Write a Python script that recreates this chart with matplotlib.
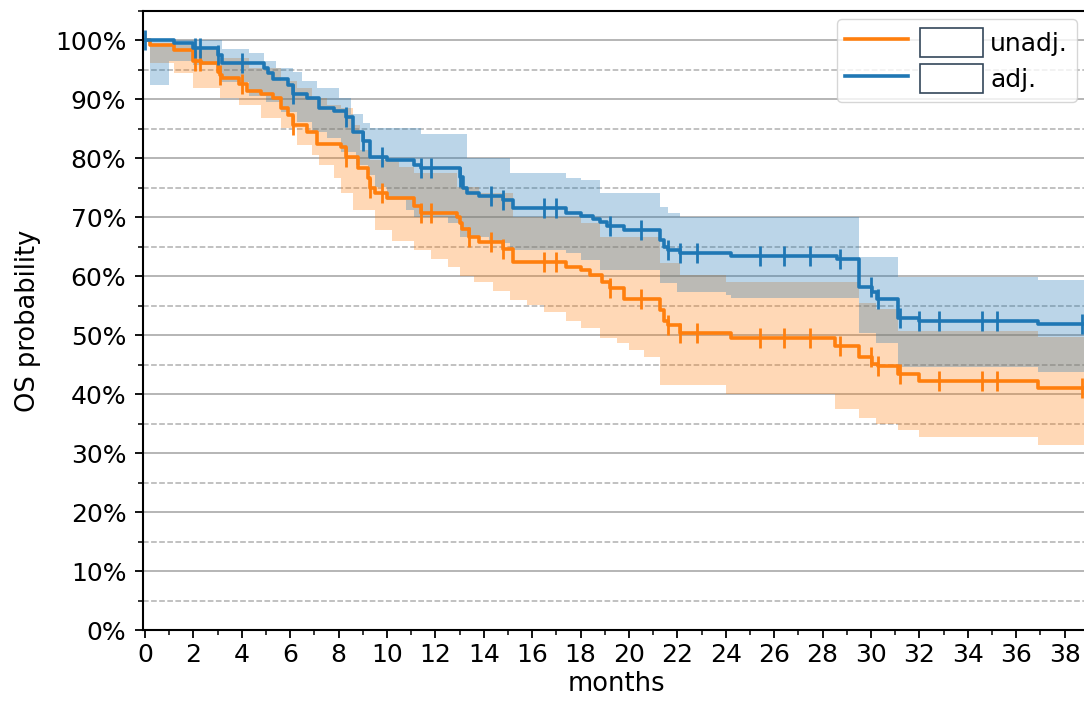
import numpy as np
import matplotlib
matplotlib.use('Agg')
import matplotlib.pyplot as plt
from matplotlib.patches import Rectangle
from matplotlib.ticker import MultipleLocator, PercentFormatter

T_END = 39.1

# unadjusted KM (orange)
unadj_t = [0, 0.2, 1.2, 2.0, 2.3, 3.0, 3.1, 3.2, 3.9, 4.2, 4.8, 5.3, 5.6, 5.9, 6.1, 6.7,
           7.1, 8.1, 8.3, 8.8, 9.2, 9.3, 9.5, 10.0, 11.1, 11.4, 12.9, 13.0, 13.1, 13.4,
           13.8, 14.8, 15.2, 17.4, 18.0, 18.4, 18.9, 19.2, 19.8, 21.3, 21.45, 21.6, 22.1,
           24.2, 28.5, 29.5, 30.05, 30.3, 31.1, 32.0, 36.9]
unadj_s = [1.0, 0.992, 0.983, 0.966, 0.961, 0.946, 0.941, 0.937, 0.927, 0.915, 0.910, 0.902,
           0.886, 0.873, 0.856, 0.844, 0.825, 0.819, 0.802, 0.783, 0.766, 0.749, 0.742, 0.732,
           0.720, 0.708, 0.700, 0.690, 0.681, 0.666, 0.659, 0.647, 0.624, 0.615, 0.610, 0.602,
           0.590, 0.580, 0.561, 0.542, 0.525, 0.517, 0.503, 0.495, 0.482, 0.463, 0.452, 0.448,
           0.435, 0.422, 0.410]
unadj_up_t = [0, 0.2, 2.0, 3.1, 4.3, 5.6, 6.3, 6.9, 7.5, 8.1, 8.6, 8.9, 9.3, 10.5, 11.1, 12.9,
              13.8, 15.2, 18.0, 18.8, 21.3, 22.1, 24.0, 29.5, 30.2, 31.1, 36.9]
unadj_up = [1.0, 0.992, 0.986, 0.970, 0.953, 0.932, 0.919, 0.902, 0.890, 0.885, 0.856, 0.814,
            0.797, 0.785, 0.775, 0.751, 0.741, 0.700, 0.690, 0.666, 0.622, 0.602, 0.590, 0.555,
            0.545, 0.508, 0.497]
unadj_lo_t = [0, 0.2, 1.2, 2.0, 3.1, 3.9, 4.8, 5.6, 6.3, 6.9, 7.2, 7.8, 8.1, 8.6, 9.5, 10.2,
              11.1, 11.8, 12.5, 13.0, 13.6, 14.4, 15.1, 15.8, 16.5, 17.4, 18.0, 18.8, 19.5,
              20.0, 20.6, 21.3, 24.0, 28.5, 29.5, 30.2, 31.1, 32.0, 36.9]
unadj_lo = [1.0, 0.962, 0.945, 0.919, 0.902, 0.890, 0.868, 0.851, 0.822, 0.805, 0.788, 0.766,
            0.742, 0.712, 0.678, 0.660, 0.644, 0.630, 0.615, 0.600, 0.590, 0.575, 0.560, 0.552,
            0.540, 0.525, 0.512, 0.495, 0.486, 0.475, 0.463, 0.415, 0.400, 0.375, 0.360, 0.350,
            0.340, 0.327, 0.314]
unadj_cens = [2.07, 2.27, 3.1, 4.0, 6.1, 8.3, 9.3, 9.8, 11.4, 11.8, 13.4, 14.3, 14.8, 16.5,
              17.0, 19.2, 20.5, 21.6, 22.1, 22.8, 25.4, 26.4, 27.5, 28.7, 30.0, 30.3, 31.2,
              32.8, 34.6, 35.2, 38.7]

# adjusted KM (blue)
adj_t = [0, 1.2, 2.0, 3.0, 3.2, 4.9, 5.1, 5.3, 5.9, 6.1, 6.7, 7.2, 7.8, 8.3, 8.6, 9.0, 9.3,
         10.0, 11.1, 11.4, 13.0, 13.15, 13.3, 13.8, 14.8, 15.2, 17.4, 18.0, 18.5, 18.8, 19.1,
         19.8, 21.3, 21.45, 21.6, 22.1, 24.2, 28.6, 29.5, 30.05, 30.25, 31.1, 32.0, 36.9]
adj_s = [1.0, 0.995, 0.988, 0.975, 0.961, 0.953, 0.944, 0.935, 0.924, 0.910, 0.902, 0.886,
         0.881, 0.870, 0.844, 0.830, 0.802, 0.797, 0.788, 0.783, 0.768, 0.749, 0.742, 0.737,
         0.729, 0.715, 0.708, 0.703, 0.698, 0.692, 0.686, 0.678, 0.661, 0.650, 0.644, 0.639,
         0.634, 0.630, 0.581, 0.573, 0.561, 0.529, 0.525, 0.519]
adj_up_t = [0, 3.2, 4.3, 4.9, 5.4, 6.1, 6.5, 7.1, 8.0, 8.5, 9.0, 9.3, 11.4, 13.3, 15.1, 17.4,
            18.0, 18.8, 21.3, 21.6, 22.1, 29.5, 31.1, 36.9]
adj_up = [1.0, 0.985, 0.978, 0.966, 0.954, 0.946, 0.932, 0.919, 0.902, 0.876, 0.860, 0.851,
          0.842, 0.800, 0.776, 0.766, 0.763, 0.742, 0.717, 0.707, 0.700, 0.632, 0.598, 0.593]
adj_lo_t = [0, 0.2, 1.0, 2.0, 3.1, 4.3, 5.0, 5.6, 6.3, 6.9, 7.5, 8.1, 8.7, 9.2, 9.5, 10.0,
            10.8, 11.1, 12.5, 13.0, 14.2, 15.1, 17.4, 18.0, 18.8, 21.3, 22.0, 24.0, 24.2,
            29.5, 30.2, 31.1, 36.9]
adj_lo = [1.0, 0.925, 0.965, 0.958, 0.929, 0.905, 0.895, 0.878, 0.861, 0.844, 0.834, 0.810,
          0.788, 0.771, 0.751, 0.729, 0.712, 0.700, 0.690, 0.666, 0.656, 0.644, 0.639, 0.627,
          0.610, 0.588, 0.573, 0.568, 0.563, 0.503, 0.486, 0.446, 0.437]
adj_cens = [0.0, 2.07, 2.27, 3.0, 4.0, 6.1, 8.3, 9.0, 9.8, 11.4, 11.8, 13.0, 14.3, 14.8, 16.5,
            17.0, 19.2, 20.5, 21.6, 22.1, 22.8, 25.4, 26.4, 27.5, 28.7, 30.0, 30.3, 31.2, 32.0,
            32.8, 34.6, 35.2, 38.7]


def ext(t, v):
    return np.append(t, T_END), np.append(v, v[-1])


def step_at(t, v, x):
    idx = np.searchsorted(t, x, side='right') - 1
    return np.asarray(v)[idx]


def km(ax, t, s, up_t, up, lo_t, lo, cens, color):
    # put the bounds on a common time grid so fill_between can step them
    grid = np.unique(np.concatenate([up_t, lo_t, [T_END]]))
    upper = step_at(up_t, up, grid)
    lower = step_at(lo_t, lo, grid)
    ax.fill_between(grid, lower, upper, step='post', color=color, alpha=0.3, lw=0)
    tt, ss = ext(t, s)
    ax.step(tt, ss, where='post', color=color, lw=2.6)
    ax.plot(cens, step_at(t, s, np.array(cens)), ls='none', marker='|', ms=15,
            mew=2.0, color=color)


fig = plt.figure(figsize=(10.84, 7.06), dpi=100)
ax = fig.add_axes([143 / 1084, 76 / 706, 947 / 1084, 619 / 706])

orange = '#ff7f0e'
blue = '#1f77b4'
km(ax, unadj_t, unadj_s, unadj_up_t, unadj_up, unadj_lo_t, unadj_lo, unadj_cens, orange)
km(ax, adj_t, adj_s, adj_up_t, adj_up, adj_lo_t, adj_lo, adj_cens, blue)

ax.set_xlim(-0.083, 39.05)
ax.set_ylim(0, 1.05)
ax.xaxis.set_major_locator(MultipleLocator(2))
ax.xaxis.set_minor_locator(MultipleLocator(1))
ax.yaxis.set_major_locator(MultipleLocator(0.1))
ax.yaxis.set_minor_locator(MultipleLocator(0.05))
ax.yaxis.set_major_formatter(PercentFormatter(1.0, decimals=0))
ax.grid(axis='y', which='major', color='#b0b0b0', lw=1.3)
ax.grid(axis='y', which='minor', color='#b0b0b0', lw=1.1, ls='--')
ax.set_axisbelow(True)
ax.tick_params(axis='both', which='major', labelsize=18, length=6, width=1.3)
ax.tick_params(axis='y', which='major', pad=6)
ax.tick_params(axis='both', which='minor', length=3.5, width=1.1)
for sp in ax.spines.values():
    sp.set_linewidth(1.5)
ax.spines['right'].set_visible(False)

ax.set_xlabel('months', fontsize=18.5, labelpad=3)
ax.set_ylabel('OS probability', fontsize=18.5, labelpad=10)

l1, = ax.plot([], [], color=orange, lw=2.6)
l2, = ax.plot([], [], color=blue, lw=2.6)
b1 = Rectangle((0, 0), 1, 1, facecolor='white', edgecolor='#34475a', lw=1.2)
b2 = Rectangle((0, 0), 1, 1, facecolor='white', edgecolor='#34475a', lw=1.2)
ax.legend([l1, l2, b1, b2], ['', '', 'unadj.', 'adj.'], ncol=2, loc='upper right',
          fontsize=18, handlelength=2.5, handleheight=1.4, columnspacing=0.2,
          handletextpad=0.3, labelspacing=0.3, borderpad=0.35, borderaxespad=0,
          bbox_to_anchor=(934 / 947, 611 / 619))

fig.savefig('out.png', dpi=100)
